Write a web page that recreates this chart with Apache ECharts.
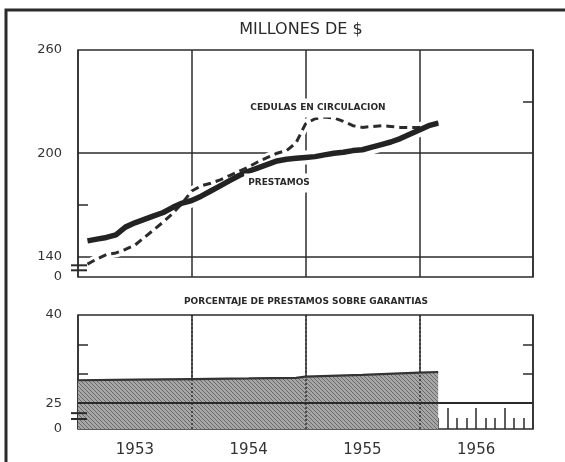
<!DOCTYPE html>
<html><head><meta charset="utf-8">
<script src="https://cdn.jsdelivr.net/npm/echarts@6/dist/echarts.min.js"></script>
<style>html,body{margin:0;padding:0;background:#fff}#c{width:565px;height:462px}</style>
</head><body><div id="c"></div>
<script>
// month index counted from January 1953 (0 = Jan 1953)
const months = [1,2,3,4,5,6,7,8,9,10,11,12,13,14,15,16,17,18,19,20,21,22,23,24,25,26,27,28,29,30,31,32,33,34,35,36,37,38];
const prestamos = [149,150,151,152.5,157,159.5,161.5,163.5,165.5,168.5,171,172.5,175,178,181,184,187,189.5,191.5,193.5,195.5,196.5,197,197.5,198,199,200,200.5,201.5,202,203.5,205,206.5,208.5,211,213.5,216,217.5];
const cedulas = [135.5,138.5,141,142,144,146.5,151,155.5,160,165,171,178,181,182.5,184.5,187,189.5,192,195,197.5,200,201.5,206,217,220,221,220.5,218.5,216,215,215.5,216,215.5,215,215,215,216,218];
const pctMonths = [0,6,12,18,23,24,30,36,38];
const pctValues = [28.9,29.0,29.1,29.2,29.3,29.5,29.8,30.2,30.3];
const yearLabels = ['1953','1954','1955','1956'];
const upperLabelValues = [128,140,200,260];
const upperLabelText = ['0','140','200','260'];
const lowerLabelValues = [20.6,25,40];
const lowerLabelText = ['0','25','40'];
const shortTickMonths = [1,2,4,5,7,8,10,11]; // months of 1956
const longTickMonths = [3,6,9];

const toX = m => 1953 + m / 12;
const dark = '#2b2b2b';
const numFont = 'DejaVu Sans';

function hatch(){
  const c = document.createElement('canvas'); c.width = 4; c.height = 4;
  const g = c.getContext('2d');
  g.fillStyle = '#a6a6a6'; g.fillRect(0,0,4,4);
  g.strokeStyle = '#6a6a6a'; g.lineWidth = 1;
  g.beginPath();
  g.moveTo(0,0); g.lineTo(4,4);
  g.moveTo(-2,2); g.lineTo(2,6);
  g.moveTo(2,-2); g.lineTo(6,2);
  g.stroke();
  return c;
}

const chart = echarts.init(document.getElementById('c'), null, {renderer:'canvas'});
const gridLine = {show:true, lineStyle:{color:dark, width:1.5}};
const baseX = {type:'value', min:1953, max:1957, interval:1, position:'bottom', offset:0, axisLine:{show:false}, axisTick:{show:false}, axisLabel:{show:false}, splitLine:{show:false}};

const upperLine = prestamos.map((v,i)=>[toX(months[i]), v]);
const upperDash = cedulas.map((v,i)=>[toX(months[i]), v]);
const pctData = pctValues.map((v,i)=>[toX(pctMonths[i]), v]);

chart.setOption({
  animation:false,
  backgroundColor:'#fff',
  grid:[
    {left:78, right:32, top:50, height:227, show:true, borderColor:dark, borderWidth:1.5, backgroundColor:'transparent'},
    {left:78, right:32, top:315, height:114, show:true, borderColor:dark, borderWidth:1.5, backgroundColor:'transparent'}
  ],
  xAxis:[
    Object.assign({}, baseX, {gridIndex:0, splitLine:gridLine}),
    Object.assign({}, baseX, {gridIndex:1, splitLine:gridLine,
      axisLabel:{show:true, customValues:yearLabels.map((t,i)=>1953.5+i), formatter:v=>yearLabels[Math.floor(v)-1953],
        margin:14, fontFamily:numFont, fontSize:15, color:'#333'}}),
    Object.assign({}, baseX, {gridIndex:1, axisTick:{show:true, inside:true, length:11, customValues:shortTickMonths.map(m=>1956+m/12), lineStyle:{color:dark, width:1.5}}}),
    Object.assign({}, baseX, {gridIndex:1, axisTick:{show:true, inside:true, length:21, customValues:longTickMonths.map(m=>1956+m/12), lineStyle:{color:dark, width:1.5}}})
  ],
  yAxis:[
    {type:'value', gridIndex:0, min:128, max:260, axisLine:{show:false},
     axisTick:{show:false, customValues:[140,200]}, splitLine:gridLine,
     axisLabel:{customValues:upperLabelValues, formatter:v=>upperLabelText[upperLabelValues.indexOf(v)], margin:16, fontFamily:numFont, fontSize:13, color:'#333'}},
    {type:'value', gridIndex:0, position:'left', offset:0, min:128, max:260, axisLine:{show:false}, splitLine:{show:false}, axisLabel:{show:false},
     axisTick:{show:true, inside:true, length:10, customValues:[170], lineStyle:{color:dark, width:1.5}}},
    {type:'value', gridIndex:0, position:'right', offset:0, min:128, max:260, axisLine:{show:false}, splitLine:{show:false}, axisLabel:{show:false},
     axisTick:{show:true, inside:true, length:10, customValues:[230], lineStyle:{color:dark, width:1.5}}},
    {type:'value', gridIndex:1, min:20.6, max:40, axisLine:{show:false},
     axisTick:{show:false, customValues:[25]}, splitLine:gridLine,
     axisLabel:{customValues:lowerLabelValues, formatter:v=>lowerLabelText[lowerLabelValues.indexOf(v)], margin:16, fontFamily:numFont, fontSize:13, color:'#333'}},
    {type:'value', gridIndex:1, position:'left', offset:0, min:20.6, max:40, axisLine:{show:false}, splitLine:{show:false}, axisLabel:{show:false},
     axisTick:{show:true, inside:true, length:10, customValues:[30,35], lineStyle:{color:dark, width:1.5}}},
    {type:'value', gridIndex:1, position:'right', offset:0, min:20.6, max:40, axisLine:{show:false}, splitLine:{show:false}, axisLabel:{show:false},
     axisTick:{show:true, inside:true, length:10, customValues:[30,35], lineStyle:{color:dark, width:1.5}}}
  ],
  series:[
    {type:'line', xAxisIndex:0, yAxisIndex:0, data:upperLine, symbol:'none', silent:true, z:2,
     lineStyle:{color:'#fff', width:14}},
    {type:'line', xAxisIndex:0, yAxisIndex:0, data:upperDash, symbol:'none', silent:true, z:2,
     lineStyle:{color:'#fff', width:9}},
    {name:'CEDULAS EN CIRCULACION', type:'line', xAxisIndex:0, yAxisIndex:0, data:upperDash, symbol:'none', z:3,
     lineStyle:{color:dark, width:3, type:[8,5]}},
    {name:'PRESTAMOS', type:'line', xAxisIndex:0, yAxisIndex:0, data:upperLine, symbol:'none', z:4,
     lineStyle:{color:'#232323', width:5.5}},
    {name:'PORCENTAJE', type:'line', xAxisIndex:1, yAxisIndex:3, data:pctData, symbol:'none', z:3,
     lineStyle:{color:'#333', width:2.2},
     areaStyle:{color:{image:hatch(), repeat:'repeat'}, opacity:1, origin:'start'},
     markLine:{silent:true, symbol:'none', label:{show:false},
       data:[
         {xAxis:1954, lineStyle:{color:'#333', width:1.5, type:[2,2]}},
         {xAxis:1955, lineStyle:{color:'#333', width:1.5, type:[2,2]}},
         {xAxis:1956, lineStyle:{color:'#333', width:1.5, type:[2,2]}},
         {yAxis:25, lineStyle:{color:'#2a2a2a', width:1.8, type:'solid'}}
       ]}}
  ]
});

// decorations: frame, axis break marks, captions
const xL = chart.convertToPixel({xAxisIndex:0}, 1953);
const yb1 = chart.convertToPixel({yAxisIndex:0}, 134.8);
const yb2 = chart.convertToPixel({yAxisIndex:0}, 131.9);
const yb3 = chart.convertToPixel({yAxisIndex:3}, 23.3);
const yb4 = chart.convertToPixel({yAxisIndex:3}, 22.3);
const brk = y => ({type:'line', z:100, shape:{x1:xL-7, y1:y, x2:xL+9, y2:y}, style:{stroke:dark, lineWidth:2}});
const cap = (text, x, y, size, bold, bg) => ({type:'text', z:100, style:{text, x, y, align:'center', verticalAlign:'middle',
  font:(bold?'bold ':'')+size+'px "DejaVu Sans"', fill:'#2a2a2a', backgroundColor:bg?'#fff':null, padding:bg?[5,4]:0}});
chart.setOption({graphic:[
  {type:'polyline', z:100, shape:{points:[[6,462],[6,10],[565,10]]}, style:{stroke:dark, lineWidth:3, fill:null}},
  brk(yb1), brk(yb2), brk(yb3), brk(yb4),
  cap('MILLONES DE $', 301, 30, 16, false, false),
  cap('CEDULAS EN CIRCULACION', 318, 108, 9, true, true),
  cap('PRESTAMOS', 279, 183, 9, true, true),
  cap('PORCENTAJE DE PRESTAMOS SOBRE GARANTIAS', 306, 302, 9, true, false)
]});
</script>
</body></html>
